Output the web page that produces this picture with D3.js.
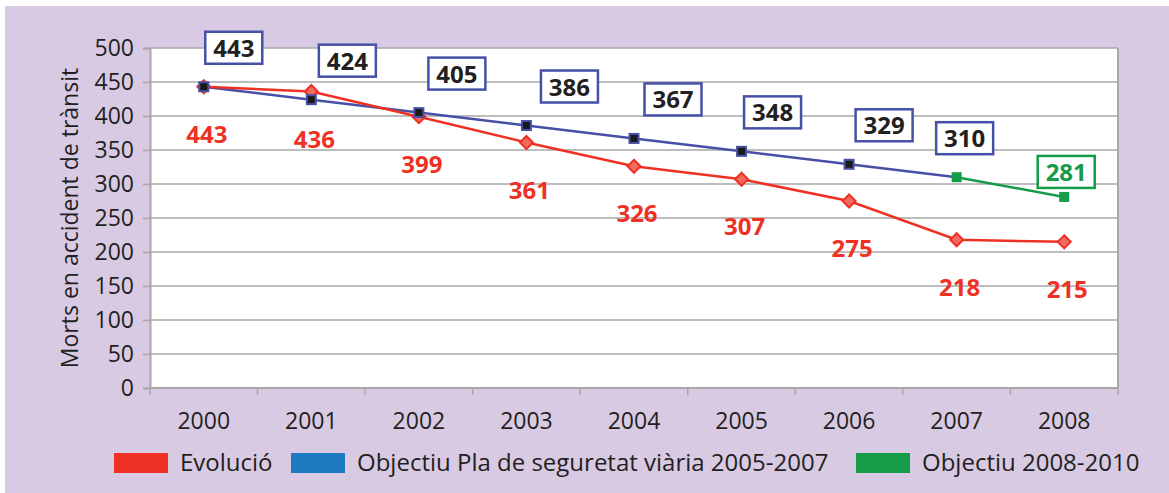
<!DOCTYPE html>
<html>
<head>
<meta charset="utf-8">
<script src="https://cdn.jsdelivr.net/npm/d3@7"></script>
<style>
  body { margin: 0; background: #fff; }
  text { font-family: "Open Sans", sans-serif; fill: #231f20; }
</style>
</head>
<body>
<div id="chart"></div>
<script>
// data
var years = ["2000", "2001", "2002", "2003", "2004", "2005", "2006", "2007", "2008"];
var evolucio = [443, 436, 399, 361, 326, 307, 275, 218, 215];
var objPla = [443, 424, 405, 386, 367, 348, 329, 310];        // 2000-2007
var objNou = [310, 281];                                       // 2007-2008
var objNouYears = ["2007", "2008"];
var yTicks = [0, 50, 100, 150, 200, 250, 300, 350, 400, 450, 500];
var legendNames = ["Evolució", "Objectiu Pla de seguretat viària 2005-2007", "Objectiu 2008-2010"];

var svgWidth = 1169, svgHeight = 493;
var margin = { top: 48, right: 51, bottom: 105, left: 150 };
var width = svgWidth - margin.left - margin.right;
var height = svgHeight - margin.top - margin.bottom;

var red = "#ee3124", blue = "#4650a6", green = "#169b48";

var svg = d3.select("#chart").append("svg")
  .attr("width", svgWidth)
  .attr("height", svgHeight);

svg.append("rect")
  .attr("x", 5).attr("y", 6)
  .attr("width", svgWidth - 5).attr("height", svgHeight - 6)
  .attr("fill", "#d8cae3");

var g = svg.append("g")
  .attr("transform", `translate(${margin.left}, ${margin.top})`);

var x = d3.scaleBand().domain(years).range([0, width]);
var y = d3.scaleLinear().domain([0, 500]).range([height, 0]);
var cx = d => x(d) + x.bandwidth() / 2;

// plot area
g.append("rect")
  .attr("width", width).attr("height", height)
  .attr("fill", "#fff");

// gridlines
g.append("g")
  .selectAll("line")
  .data(yTicks.filter(t => t > 0))
  .enter().append("line")
  .attr("x1", 0).attr("x2", width)
  .attr("y1", d => y(d)).attr("y2", d => y(d))
  .attr("stroke", "#a7a7a7").attr("stroke-width", 1.5);

// right border
g.append("line")
  .attr("x1", width).attr("x2", width)
  .attr("y1", 0).attr("y2", height)
  .attr("stroke", "#a7a7a7").attr("stroke-width", 2);

// y axis
var yAxis = g.append("g")
  .call(d3.axisLeft(y).tickValues(yTicks).tickSize(7).tickPadding(9));
yAxis.select(".domain").attr("stroke", "#a7a7a7").attr("stroke-width", 2);
yAxis.selectAll(".tick line").attr("stroke", "#a7a7a7").attr("stroke-width", 1.5);
yAxis.selectAll(".tick text").attr("font-size", 23).attr("font-family", "Open Sans").attr("fill", "#231f20");

// x axis: ticks on band edges
var xAxisG = g.append("g").attr("transform", `translate(0, ${height})`);
xAxisG.append("line")
  .attr("x1", 0).attr("x2", width)
  .attr("stroke", "#a7a7a7").attr("stroke-width", 2);
xAxisG.selectAll(".edge")
  .data(years.concat(["end"]))
  .enter().append("line")
  .attr("class", "edge")
  .attr("x1", (d, i) => i * x.step()).attr("x2", (d, i) => i * x.step())
  .attr("y1", 0).attr("y2", 7)
  .attr("stroke", "#a7a7a7").attr("stroke-width", 1.5);
xAxisG.selectAll("text")
  .data(years)
  .enter().append("text")
  .attr("x", d => cx(d))
  .attr("y", 41)
  .attr("text-anchor", "middle")
  .attr("font-size", 23)
  .text(d => d);

// y axis title
svg.append("text")
  .attr("transform", `translate(78, ${margin.top + height / 2}) rotate(-90)`)
  .attr("text-anchor", "middle")
  .attr("font-size", 23)
  .text("Morts en accident de trànsit");

var line = d3.line().x(d => cx(d[0])).y(d => y(d[1]));

// objective line (blue) and new objective (green)
g.append("path")
  .datum(d3.zip(years.slice(0, objPla.length), objPla))
  .attr("d", line).attr("fill", "none")
  .attr("stroke", blue).attr("stroke-width", 2.5);
g.append("path")
  .datum(d3.zip(objNouYears, objNou))
  .attr("d", line).attr("fill", "none")
  .attr("stroke", green).attr("stroke-width", 2.5);

// evolution line (red)
g.append("path")
  .datum(d3.zip(years, evolucio))
  .attr("d", line).attr("fill", "none")
  .attr("stroke", red).attr("stroke-width", 2.5);

// red diamonds
g.selectAll(".dia")
  .data(d3.zip(years, evolucio))
  .enter().append("path")
  .attr("class", "dia")
  .attr("transform", d => `translate(${cx(d[0])}, ${y(d[1])})`)
  .attr("d", "M0,-6.5L6.5,0L0,6.5L-6.5,0Z")
  .attr("fill", "#f26b5e").attr("stroke", red).attr("stroke-width", 2);

// blue squares
g.selectAll(".sqb")
  .data(d3.zip(years.slice(0, 7), objPla.slice(0, 7)))
  .enter().append("rect")
  .attr("class", "sqb")
  .attr("x", d => cx(d[0]) - 4.5).attr("y", d => y(d[1]) - 4.5)
  .attr("width", 9).attr("height", 9)
  .attr("fill", "#1a1a1a").attr("stroke", blue).attr("stroke-width", 2);

// green squares
g.selectAll(".sqg")
  .data(d3.zip(objNouYears, objNou))
  .enter().append("rect")
  .attr("class", "sqg")
  .attr("x", d => cx(d[0]) - 5).attr("y", d => y(d[1]) - 5)
  .attr("width", 10).attr("height", 10)
  .attr("fill", green);

// red value labels
g.selectAll(".lblr")
  .data(d3.zip(years, evolucio))
  .enter().append("text")
  .attr("x", d => cx(d[0]) + 3)
  .attr("y", d => y(d[1]) + 56)
  .attr("text-anchor", "middle")
  .attr("font-size", 24).attr("font-weight", "bold")
  .style("fill", red)
  .text(d => d[1]);

// boxed labels for objectives
var boxNudge = [30, 36, 38, 43, 39, 31, 35, 8];
var boxes = d3.zip(years.slice(0, objPla.length), objPla).map((d, i) => ({
  year: d[0], v: d[1], dx: boxNudge[i], dy: -39, color: blue
}));
boxes.push({ year: objNouYears[1], v: objNou[1], dx: 2, dy: -25, color: green });

var lbl = g.selectAll(".box")
  .data(boxes)
  .enter().append("g")
  .attr("class", "box")
  .attr("transform", d => `translate(${cx(d.year) + d.dx}, ${y(d.v) + d.dy})`);
lbl.append("rect")
  .attr("x", -28.5).attr("y", -16)
  .attr("width", 57).attr("height", 32)
  .attr("fill", "#fff")
  .attr("stroke", d => d.color).attr("stroke-width", 2.5);
lbl.append("text")
  .attr("y", 9)
  .attr("text-anchor", "middle")
  .attr("font-size", 24).attr("font-weight", "bold")
  .style("fill", d => d.color === green ? green : "#231f20")
  .text(d => d.v);

// legend
var legendColors = [red, "#1f7bc1", green];
var legendX = [114, 291, 856];
var leg = svg.selectAll(".leg")
  .data(legendNames)
  .enter().append("g")
  .attr("class", "leg")
  .attr("transform", (d, i) => `translate(${legendX[i]}, 453)`);
leg.append("rect")
  .attr("width", 54).attr("height", 20)
  .attr("fill", (d, i) => legendColors[i]);
leg.append("text")
  .attr("x", 66).attr("y", 18)
  .attr("font-size", 24)
  .text(d => d);
</script>
</body>
</html>
